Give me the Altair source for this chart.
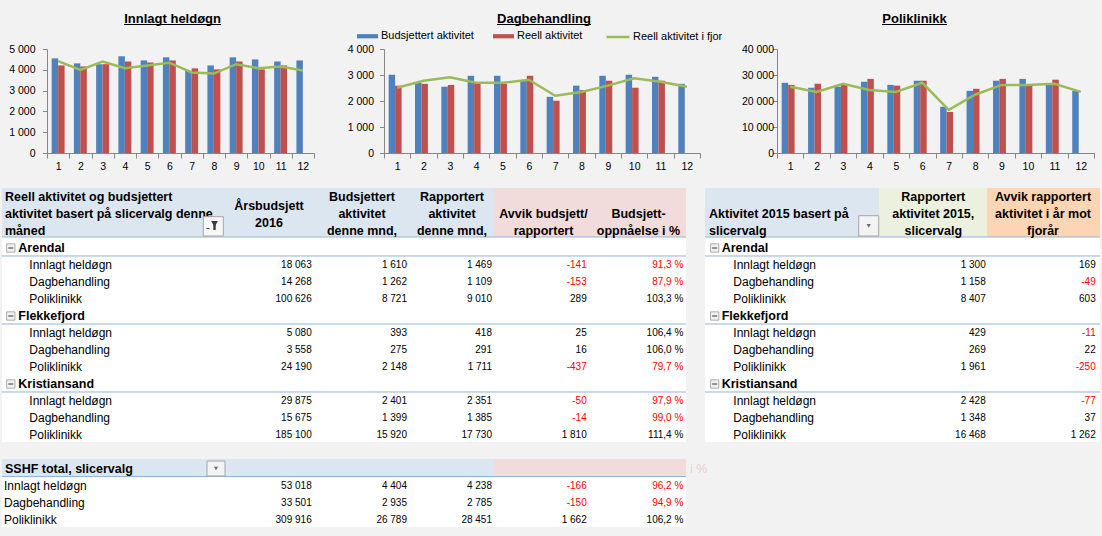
import altair as alt
import pandas as pd

FONT = "Liberation Sans"
BG = "#f2f2f2"
BLUE, RED, GREEN = "#4f81bd", "#c0504d", "#9bbb59"
AXIS_GRAY = "#868686"
RULE_BLUE = "#95b3d7"
HDR_BLUE, HDR_PINK, HDR_GREEN, HDR_PEACH = "#dce6f1", "#f2dcdb", "#ebf1de", "#fcd5b4"
NEG_RED = "#ff0000"

# ---------------- data ----------------
months = list(range(1, 13))
SERIES = ["Budsjettert aktivitet", "Reell aktivitet", "Reell aktivitet i fjor"]

ih_budsjett = [4550, 4310, 4270, 4650, 4450, 4600, 3950, 4210, 4600, 4500, 4400, 4450]
ih_reell = [4210, 4160, 4270, 4400, 4350, 4450, 4070, 4020, 4400, 4020, 4210]
ih_fjor = [4420, 4000, 4400, 4080, 4210, 4340, 3870, 3820, 4270, 4080, 4160, 3970]

db_budsjett = [3010, 2720, 2550, 2970, 2970, 2790, 2160, 2590, 2970, 3010, 2930, 2660]
db_reell = [2590, 2660, 2620, 2700, 2660, 2970, 2010, 2420, 2780, 2510, 2780]
db_fjor = [2510, 2780, 2910, 2700, 2700, 2820, 2200, 2350, 2590, 2870, 2740, 2550]

pk_budsjett = [27000, 25100, 25500, 27400, 26200, 27800, 17800, 23900, 27800, 28500, 26600, 23900]
pk_reell = [26200, 26600, 26200, 28500, 25900, 27800, 15800, 24700, 28500, 26200, 28200]
pk_fjor = [25500, 23500, 26600, 24200, 23500, 27000, 16600, 22400, 26200, 26200, 26600, 23500]

sites = ["Arendal", "Flekkefjord", "Kristiansand"]
types = ["Innlagt heldøgn", "Dagbehandling", "Poliklinikk"]
aarsbudsjett = [18063, 14268, 100626, 5080, 3558, 24190, 29875, 15675, 185100]
budsj_mnd = [1610, 1262, 8721, 393, 275, 2148, 2401, 1399, 15920]
rapp_mnd = [1469, 1109, 9010, 418, 291, 1711, 2351, 1385, 17730]
avvik = [-141, -153, 289, 25, 16, -437, -50, -14, 1810]
oppnaaelse = [91.3, 87.9, 103.3, 106.4, 106.0, 79.7, 97.9, 99.0, 111.4]
rapp_2015 = [1300, 1158, 8407, 429, 269, 1961, 2428, 1348, 16468]
avvik_fjor = [169, -49, 603, -11, 22, -250, -77, 37, 1262]

tot_aars = [53018, 33501, 309916]
tot_budsj = [4404, 2935, 26789]
tot_rapp = [4238, 2785, 28451]
tot_avvik = [-166, -150, 1662]
tot_oppn = [96.2, 94.9, 106.2]

h1_col0 = ["Reell aktivitet og budsjettert", "aktivitet basert på slicervalg denne", "måned"]
h1_aars = ["Årsbudsjett", "2016"]
h1_budsj = ["Budsjettert", "aktivitet", "denne mnd,"]
h1_rapp = ["Rapportert", "aktivitet", "denne mnd,"]
h1_avvik = ["Avvik budsjett/", "rapportert"]
h1_oppn = ["Budsjett-", "oppnåelse i %"]
h2_col0 = ["Aktivitet 2015 basert på", "slicervalg"]
h2_rapp = ["Rapportert", "aktivitet 2015,", "slicervalg"]
h2_avvik = ["Avvik rapportert", "aktivitet i år mot", "fjorår"]
h3_col0 = ["SSHF total, slicervalg"]
h3_tail = ["i %"]

ONE = pd.DataFrame({"k": [0]})
ROW = 17


def fmt_int(v):
    return f"{v:,}".replace(",", " ")


def fmt_pct(p):
    return f"{p:.1f}".replace(".", ",") + " %"


def rect(x0, x1, y0, y1, fill, stroke=None):
    kw = dict(fill=fill, strokeWidth=0)
    if stroke:
        kw.update(stroke=stroke, strokeWidth=1)
    return alt.Chart(ONE).mark_rect(**kw).encode(
        x=alt.value(x0), x2=alt.value(x1), y=alt.value(y0), y2=alt.value(y1))


def hrule(x0, x1, y, color, width=1):
    return alt.Chart(ONE).mark_rule(color=color, strokeWidth=width).encode(
        x=alt.value(x0), x2=alt.value(x1), y=alt.value(y))


def month_chart(title, tcx, tw, budsjett, reell, fjor, ymax, ystep, plot_w, group_w,
                lab_pad, legend=False, pin=False):
    bar_df = pd.DataFrame({
        "m": months + months[:len(reell)],
        "serie": [SERIES[0]] * len(budsjett) + [SERIES[1]] * len(reell),
        "v": budsjett + reell})
    line_df = pd.DataFrame({"m": months[:len(fjor)], "serie": [SERIES[2]] * len(fjor), "v": fjor})
    xs = alt.Scale(domain=months, range=[0, plot_w], paddingInner=0, paddingOuter=0)
    ys = alt.Scale(domain=[0, ymax], nice=False)
    x_axis = alt.Axis(title=None, labelAngle=0, tickBand="extent", tickSize=5, labelPadding=3,
                      domainColor=AXIS_GRAY, tickColor=AXIS_GRAY, labelColor="#000",
                      labelFont=FONT, labelFontSize=10.5, grid=False)
    y_axis = alt.Axis(title=None, values=list(range(0, ymax + 1, ystep)),
                      labelExpr="datum.value == 0 ? '0' : format(floor(datum.value / 1000), 'd') + ' 000'",
                      tickSize=4.5, labelPadding=lab_pad, domainColor=AXIS_GRAY, tickColor=AXIS_GRAY,
                      labelColor="#000", labelFont=FONT, labelFontSize=10.5, grid=False)
    if legend:
        c_leg = alt.Legend(orient="none", legendX=-27, legendY=-23.5, direction="horizontal",
                           title=None, symbolType="M-1,-0.2H1V0.2H-1Z", symbolSize=441,
                           symbolStrokeWidth=0, labelFont=FONT, labelFontSize=11,
                           labelColor="#000", labelOffset=3, columnPadding=19, padding=0)
        s_leg = alt.Legend(orient="none", legendX=221, legendY=-25, title=None,
                           symbolType="stroke", symbolSize=529, symbolStrokeWidth=2.5,
                           labelFont=FONT, labelFontSize=11, labelColor="#000",
                           labelOffset=2, padding=0)
    else:
        c_leg = None
        s_leg = None
    bars = alt.Chart(bar_df).mark_bar().encode(
        x=alt.X("m:O", scale=xs, axis=x_axis),
        xOffset=alt.XOffset("serie:N", scale=alt.Scale(domain=SERIES[:2], paddingInner=0,
                                                       paddingOuter=0.72)),
        y=alt.Y("v:Q", scale=ys, axis=y_axis),
        color=alt.Color("serie:N", scale=alt.Scale(domain=SERIES[:2], range=[BLUE, RED]),
                        legend=c_leg))
    line = alt.Chart(line_df).mark_line(strokeWidth=2.5).encode(
        x=alt.X("m:O", scale=xs, axis=x_axis),
        y=alt.Y("v:Q", scale=ys, axis=y_axis),
        stroke=alt.Stroke("serie:N", scale=alt.Scale(domain=[SERIES[2]], range=[GREEN]),
                          legend=s_leg))
    tdf = pd.DataFrame({"t": [title]})
    ttl = alt.Chart(tdf).mark_text(font=FONT, fontSize=13, fontWeight="bold", align="center",
                                   baseline="alphabetic", color="#000").encode(
        x=alt.value(tcx), y=alt.value(-26.5), text="t:N")
    ul = hrule(tcx - tw / 2, tcx + tw / 2, -24.5, "#000")
    layers = []
    if pin:
        layers.append(rect(-47, -46, -49, -48, BG))
    layers += [bars, line, ttl, ul]
    return alt.layer(*layers).properties(width=group_w, height=104)


def yscale(base, H):
    return alt.Scale(domain=[-base / ROW, (H - base) / ROW], reverse=True, nice=False, zero=False)


def text_layer(df, field, x, align, ys, size=10, weight="normal", color="#000",
               cond=None, font=FONT):
    enc = dict(x=alt.value(x), y=alt.Y("r:Q", scale=ys, axis=None), text=alt.Text(f"{field}:N"))
    if cond:
        enc["color"] = alt.condition(cond, alt.value(NEG_RED), alt.value("#000000"))
    return alt.Chart(df).mark_text(align=align, baseline="middle", font=font, fontSize=size,
                                   fontWeight=weight, color=color).encode(**enc)


def header_layer(lines, r0, x, align, ys, color="#000", weight="bold"):
    df = pd.DataFrame({"r": [r0 + n for n in range(len(lines))], "t": lines})
    return text_layer(df, "t", x, align, ys, size=12.5, weight=weight, color=color)


def group_layers(groups, icon_cx, text_x, x0, x1, ys):
    icon = alt.Chart(groups).mark_square(size=69, filled=True, fill="#ececec", stroke="#8a8a8a",
                                         strokeWidth=1).encode(
        x=alt.value(icon_cx), y=alt.Y("r:Q", scale=ys, axis=None))
    minus = alt.Chart(groups).mark_rule(color="#333", strokeWidth=1).encode(
        x=alt.value(icon_cx - 2.5), x2=alt.value(icon_cx + 2.5), y=alt.Y("r:Q", scale=ys, axis=None))
    name = text_layer(groups, "name", text_x, "left", ys, size=12.5, weight="bold")
    line = alt.Chart(groups).mark_rule(color=RULE_BLUE, strokeWidth=1).encode(
        x=alt.value(x0), x2=alt.value(x1), y=alt.Y("rl:Q", scale=ys, axis=None))
    return [line, icon, minus, name]


def dropdown(x0, x1, y0, y1):
    cx, cy = (x0 + x1) / 2, (y0 + y1) / 2
    box = rect(x0, x1, y0, y1, "#f3f3f3", "#a6a6a6")
    tri = alt.Chart(ONE).mark_point(shape="triangle-down", filled=True, size=18,
                                    color="#6d6d6d", opacity=1).encode(
        x=alt.value(cx), y=alt.value(cy))
    return [box, tri]


groups_df = pd.DataFrame({"r": [4 * i for i in range(3)], "name": sites,
                          "rl": [4 * i + 0.47 for i in range(3)]})

body_rows = []
for i in range(3):
    for j, t in enumerate(types):
        k = 3 * i + j
        body_rows.append(dict(r=4 * i + 1 + j, label=t,
                              a=fmt_int(aarsbudsjett[k]), b=fmt_int(budsj_mnd[k]),
                              c=fmt_int(rapp_mnd[k]), d=fmt_int(avvik[k]), dv=avvik[k],
                              e=fmt_pct(oppnaaelse[k]), ev=oppnaaelse[k],
                              f=fmt_int(rapp_2015[k]), g=fmt_int(avvik_fjor[k]), gv=avvik_fjor[k]))
body_df = pd.DataFrame(body_rows)

# ---------------- table 1 (grid cell starts at page x 47) ----------------
B1, H1 = 95, 289
ys1 = yscale(B1, H1)
t1_layers = [
    rect(-45, 447, 35, 84, HDR_BLUE),
    rect(447, 639, 35, 84, HDR_PINK),
    rect(-45, 639, 84, 289, "#ffffff"),
    hrule(-45, 639, 84, RULE_BLUE),
    header_layer(h1_col0, -3, -42, "left", ys1),
    header_layer(h1_aars, -2.5, 222, "center", ys1),
    header_layer(h1_budsj, -3, 315, "center", ys1),
    header_layer(h1_rapp, -3, 405, "center", ys1),
    header_layer(h1_avvik, -2, 496.5, "center", ys1),
    header_layer(h1_oppn, -2, 591.5, "center", ys1),
    rect(156.3, 176.3, 63.7, 83, "#f7f7f7", "#a5a5a5"),
    alt.Chart(ONE).mark_point(shape="triangle-down", filled=True, size=45, color="#3c3c3c",
                              opacity=1).encode(x=alt.value(167.5), y=alt.value(71)),
    rect(166.3, 168.7, 71, 77, "#3c3c3c"),
    hrule(159.5, 162.5, 75.5, "#3c3c3c"),
]
t1_layers += group_layers(groups_df, -36.2, -28.7, -45, 639, ys1)
t1_layers += [
    text_layer(body_df, "label", -17.7, "left", ys1, size=12),
    text_layer(body_df, "a", 264.7, "right", ys1),
    text_layer(body_df, "b", 360, "right", ys1),
    text_layer(body_df, "c", 445, "right", ys1),
    text_layer(body_df, "d", 539.7, "right", ys1, cond="datum.dv < 0"),
    text_layer(body_df, "e", 636.3, "right", ys1, cond="datum.ev < 100"),
]
t1 = alt.layer(*t1_layers).properties(width=337, height=H1)

# ---------------- table 2 (grid cell starts at page x 384; table at page 705) ----------------
D = 321
ys2 = yscale(B1, H1)
t2_layers = [
    rect(D + 0, D + 174, 35, 84, HDR_BLUE),
    rect(D + 174, D + 282, 35, 84, HDR_GREEN),
    rect(D + 282, D + 395, 35, 84, HDR_PEACH),
    rect(D + 0, D + 395, 84, 289, "#ffffff"),
    hrule(D + 0, D + 395, 84, RULE_BLUE),
    header_layer(h2_col0, -2, D + 4, "left", ys2),
    header_layer(h2_rapp, -3, D + 228.3, "center", ys2),
    header_layer(h2_avvik, -3, D + 338, "center", ys2),
]
t2_layers += dropdown(D + 153.7, D + 173.7, 62.7, 83)
t2_layers += group_layers(groups_df, D + 9.7, D + 16.7, D + 0, D + 395, ys2)
t2_layers += [
    text_layer(body_df, "label", D + 28.3, "left", ys2, size=12),
    text_layer(body_df, "f", D + 280.7, "right", ys2),
    text_layer(body_df, "g", D + 390.7, "right", ys2, cond="datum.gv < 0"),
]
t2 = alt.layer(*t2_layers).properties(width=393, height=H1)

# ---------------- table 3 ----------------
B3, H3 = 43.5, 94
ys3 = yscale(B3, H3)
tot_df = pd.DataFrame({"r": [0, 1, 2], "label": types,
                       "a": [fmt_int(v) for v in tot_aars], "b": [fmt_int(v) for v in tot_budsj],
                       "c": [fmt_int(v) for v in tot_rapp], "d": [fmt_int(v) for v in tot_avvik],
                       "dv": tot_avvik, "e": [fmt_pct(v) for v in tot_oppn], "ev": tot_oppn})
t3_layers = [
    rect(-47, 1055, 0, H3, BG),
    rect(-45, 447, 17, 34.5, HDR_BLUE),
    rect(447, 639, 17, 34.5, HDR_PINK),
    rect(-45, 639, 34.5, 85, "#ffffff"),
    hrule(-45, 639, 34.5, RULE_BLUE),
    header_layer(h3_col0, -1, -42, "left", ys3),
    header_layer(h3_tail, -1, 643, "left", ys3, color="#f0cccc", weight="normal"),
]
t3_layers += dropdown(160, 178, 19, 34)
t3_layers += [
    text_layer(tot_df, "label", -43, "left", ys3, size=12),
    text_layer(tot_df, "a", 264.7, "right", ys3),
    text_layer(tot_df, "b", 360, "right", ys3),
    text_layer(tot_df, "c", 445, "right", ys3),
    text_layer(tot_df, "d", 539.7, "right", ys3, cond="datum.dv < 0"),
    text_layer(tot_df, "e", 636.3, "right", ys3, cond="datum.ev < 100"),
]
t3 = alt.layer(*t3_layers).properties(width=337, height=H3)

# ---------------- charts ----------------
c1 = month_chart("Innlagt heldøgn", 125.6, 97, ih_budsjett, ih_reell, ih_fjor, 5000, 1000,
                 267, 337, 7.5, pin=True)
c2 = month_chart("Dagbehandling", 160, 94, db_budsjett, db_reell, db_fjor, 4000, 1000,
                 316, 393, 6, legend=True)
c3 = month_chart("Poliklinikk", 137.5, 65, pk_budsjett, pk_reell, pk_fjor, 40000, 10000,
                 317, 317, -1)

filler = alt.Chart(ONE).mark_point(opacity=0).encode(
    x=alt.value(0), y=alt.value(0)).properties(width=1, height=H1)

chart = alt.concat(c1, c2, c3, t1, t2, filler, t3, columns=3, spacing=0, bounds="flush",
                   align="each").resolve_scale(
    color="independent", stroke="independent", y="independent", x="independent"
).resolve_legend(color="independent", stroke="independent").properties(
    padding=0, background=BG).configure_view(stroke=None)

chart.save("out.html", embed_options={"renderer": "svg", "actions": False})
